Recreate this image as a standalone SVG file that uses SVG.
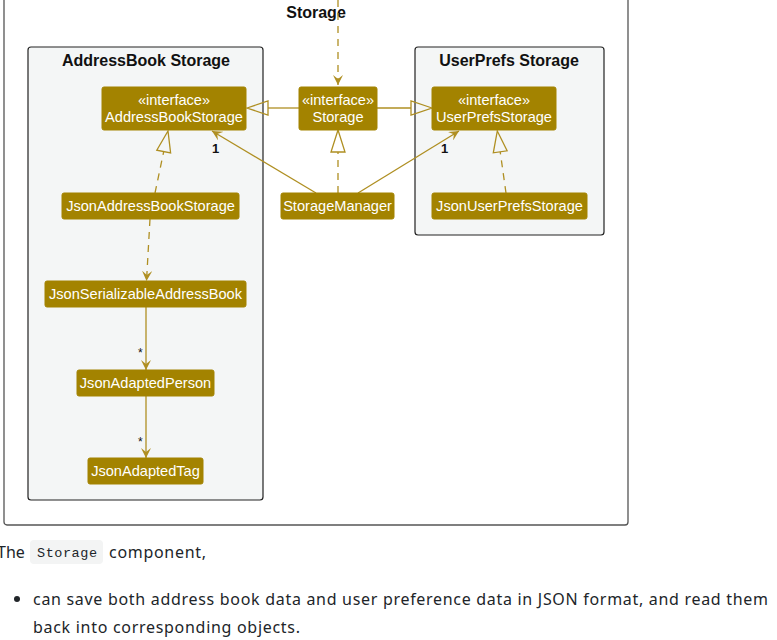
<svg xmlns="http://www.w3.org/2000/svg" width="777" height="640" viewBox="0 0 777 640">
<style>
.node rect{fill:#A38300;stroke:#A38300;}
.node text{font-family:"Liberation Sans",Arial,sans-serif;font-size:14.6px;fill:#FFFFFF;text-anchor:middle;}
.pkg rect{fill:#F4F6F6;stroke:#222222;stroke-width:1.2;}
.title{font-family:"Liberation Sans",Arial,sans-serif;font-weight:bold;font-size:16px;fill:#111111;text-anchor:middle;}
.edges line,.edges path{stroke:#AF8F22;stroke-width:1.3;fill:none;}
.edges .dash{stroke-dasharray:7,6;}
.edges polygon.tri{fill:none;stroke:#AF8F22;stroke-width:1.3;}
.mult{font-family:"Liberation Sans",Arial,sans-serif;font-size:13px;font-weight:bold;fill:#111;}
.star{font-family:"Liberation Sans",Arial,sans-serif;font-size:12px;fill:#111;}
.prose{font-family:"Noto Sans","Open Sans",sans-serif;font-size:16px;fill:#212529;}
</style>
<defs>
<marker id="arrow" viewBox="0 0 10 10" markerWidth="10" markerHeight="10" refX="10" refY="5" markerUnits="userSpaceOnUse" orient="auto">
<path d="M0,0 L10,5 L0,10 L4,5 Z" fill="#AF8F22" stroke="none"/>
</marker>
</defs>
<rect width="777" height="640" fill="#FFFFFF"/>
<g id="frame">
<rect x="4" y="-20" width="624" height="545" rx="3" fill="#FFFFFF" stroke="#555555" stroke-width="1.3"/>
<text class="title" x="316" y="18">Storage</text>
</g>
<g id="pkg-addressbook" class="pkg">
<rect x="28" y="47" width="235" height="453" rx="3"/>
<text class="title" x="146" y="66">AddressBook Storage</text>
</g>
<g id="pkg-userprefs" class="pkg">
<rect x="415" y="47" width="189" height="188" rx="3"/>
<text class="title" x="509" y="66">UserPrefs Storage</text>
</g>
<g class="edges" id="connectors">
<line class="dash" x1="338" y1="0" x2="338" y2="85" marker-end="url(#arrow)"/>
<line x1="299" y1="108" x2="268" y2="108"/>
<polygon class="tri" points="247,108 268,101 268,115"/>
<line x1="377" y1="108" x2="411" y2="108"/>
<polygon class="tri" points="432,108 411,101 411,115"/>
<line class="dash" x1="338" y1="193" x2="338" y2="152"/>
<polygon class="tri" points="338,130 331,152 345,152"/>
<line x1="316" y1="193" x2="212" y2="131" marker-end="url(#arrow)"/>
<line x1="358" y1="193" x2="459" y2="131" marker-end="url(#arrow)"/>
<line class="dash" x1="155" y1="193" x2="163.7" y2="151.6"/>
<polygon class="tri" points="168,131 170.6,153 156.8,150.2"/>
<line class="dash" x1="506" y1="193" x2="500.2" y2="151.8"/>
<polygon class="tri" points="497.3,131 507.1,150.8 493.3,152.8"/>
<line class="dash" x1="150" y1="219" x2="146.5" y2="281" marker-end="url(#arrow)"/>
<line x1="146" y1="307" x2="146" y2="370" marker-end="url(#arrow)"/>
<line x1="146" y1="396" x2="146" y2="458" marker-end="url(#arrow)"/>
<text class="mult" x="212" y="153">1</text>
<text class="mult" x="441" y="153">1</text>
<text class="star" x="138" y="357">*</text>
<text class="star" x="138" y="446">*</text>
</g>
<g id="AddressBookStorage" class="node">
<rect x="102" y="87" width="144" height="43" rx="2"/>
<text x="174" y="105">«interface»</text>
<text x="174" y="122">AddressBookStorage</text>
</g>
<g id="Storage" class="node">
<rect x="299" y="87" width="78" height="43" rx="2"/>
<text x="338" y="105">«interface»</text>
<text x="338" y="122">Storage</text>
</g>
<g id="UserPrefsStorage" class="node">
<rect x="432" y="87" width="124" height="43" rx="2"/>
<text x="494" y="105">«interface»</text>
<text x="494" y="122">UserPrefsStorage</text>
</g>
<g id="JsonAddressBookStorage" class="node">
<rect x="62" y="193" width="177" height="26" rx="2"/>
<text x="150.5" y="211">JsonAddressBookStorage</text>
</g>
<g id="StorageManager" class="node">
<rect x="281" y="193" width="113" height="26" rx="2"/>
<text x="337.5" y="211">StorageManager</text>
</g>
<g id="JsonUserPrefsStorage" class="node">
<rect x="432" y="193" width="155" height="26" rx="2"/>
<text x="509.5" y="211">JsonUserPrefsStorage</text>
</g>
<g id="JsonSerializableAddressBook" class="node">
<rect x="45" y="281" width="201" height="26" rx="2"/>
<text x="145.5" y="299">JsonSerializableAddressBook</text>
</g>
<g id="JsonAdaptedPerson" class="node">
<rect x="77" y="370" width="137" height="26" rx="2"/>
<text x="145.5" y="388">JsonAdaptedPerson</text>
</g>
<g id="JsonAdaptedTag" class="node">
<rect x="88" y="458" width="115" height="26" rx="2"/>
<text x="145.5" y="476">JsonAdaptedTag</text>
</g>
<g id="prose">
<rect x="30" y="540" width="73" height="24" rx="4" fill="#F3F4F4"/>
<text class="prose" x="-3" y="558">The</text>
<text x="37" y="557" font-family="'Liberation Mono','DejaVu Sans Mono',monospace" font-size="13.5px" fill="#212529" textLength="60">Storage</text>
<text class="prose" x="109" y="558" textLength="97">component,</text>
<circle cx="17" cy="599" r="3" fill="#212529"/>
<text class="prose" x="33" y="605" textLength="735">can save both address book data and user preference data in JSON format, and read them</text>
<text class="prose" x="33" y="633" textLength="267">back into corresponding objects.</text>
</g>
</svg>
